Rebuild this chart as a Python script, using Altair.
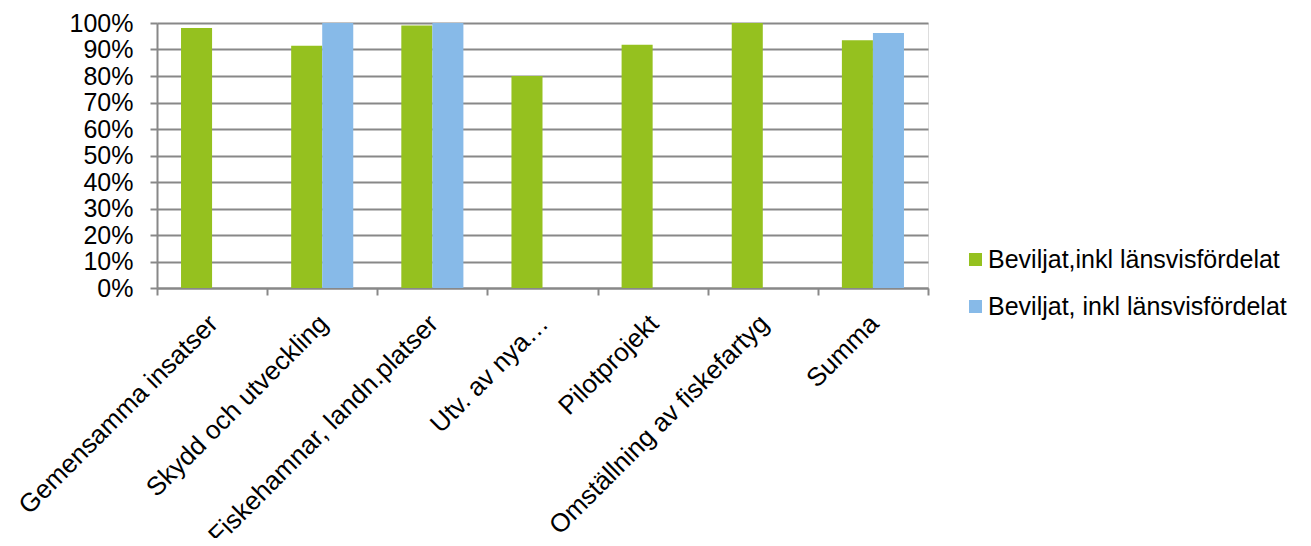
import altair as alt
import pandas as pd

categories = [
    "Gemensamma insatser",
    "Skydd och utveckling",
    "Fiskehamnar, landn.platser",
    "Utv. av nya…",
    "Pilotprojekt",
    "Omställning av fiskefartyg",
    "Summa",
]
series_names = ["Beviljat,inkl länsvisfördelat", "Beviljat, inkl länsvisfördelat"]
green_values = [0.981, 0.914, 0.991, 0.80, 0.918, 1.0, 0.935]
blue_values = [None, 1.0, 1.0, None, None, None, 0.962]
y_ticks = [0, 0.1, 0.2, 0.3, 0.4, 0.5, 0.6, 0.7, 0.8, 0.9, 1.0]
colors = ["#95C11F", "#87BAE8"]

rows = []
for c, g, b in zip(categories, green_values, blue_values):
    if g is not None:
        rows.append({"category": c, "series": series_names[0], "value": g})
    if b is not None:
        rows.append({"category": c, "series": series_names[1], "value": b})
df = pd.DataFrame(rows)

FONT = "Liberation Sans"

chart = (
    alt.Chart(df)
    .mark_bar()
    .encode(
        x=alt.X(
            "category:N",
            sort=categories,
            scale=alt.Scale(paddingInner=0, paddingOuter=0),
            axis=alt.Axis(
                title=None,
                labelAngle=-45,
                labelFontSize=26,
                labelFont=FONT,
                labelColor="#000000",
                labelLimit=0,
                labelOffset=-8,
                tickBand="extent",
                tickSize=7,
                tickWidth=2,
                tickColor="#888888",
                domainColor="#888888",
                domainWidth=2,
                labelPadding=15,
            ),
        ),
        xOffset=alt.XOffset(
            "series:N",
            sort=series_names,
            scale=alt.Scale(paddingInner=0, paddingOuter=0.774),
        ),
        y=alt.Y(
            "value:Q",
            scale=alt.Scale(domain=[0, 1]),
            axis=alt.Axis(
                title=None,
                values=y_ticks,
                format=".0%",
                labelFontSize=25,
                labelFont=FONT,
                labelColor="#000000",
                tickSize=7,
                tickWidth=2,
                tickColor="#888888",
                domainColor="#888888",
                domainWidth=2,
                gridColor="#888888",
                gridWidth=2,
                labelPadding=17,
            ),
        ),
        color=alt.Color(
            "series:N",
            scale=alt.Scale(domain=series_names, range=colors),
            legend=alt.Legend(
                title=None,
                orient="none",
                legendX=806,
                legendY=224,
                symbolType="square",
                symbolSize=169,
                symbolStrokeWidth=0,
                labelFontSize=25,
                labelFont=FONT,
                labelColor="#000000",
                labelOffset=0,
                rowPadding=21,
                labelLimit=400,
                padding=0,
            ),
        ),
    )
    .properties(
        width=771,
        height=265,
        autosize=alt.AutoSizeParams(type="none"),
        padding={"left": 149, "top": 15, "right": 375, "bottom": 250},
    )
    .configure_view(stroke=None)
    .configure(background="white")
)

chart.save("out.html", embed_options={"renderer": "svg", "actions": False})
